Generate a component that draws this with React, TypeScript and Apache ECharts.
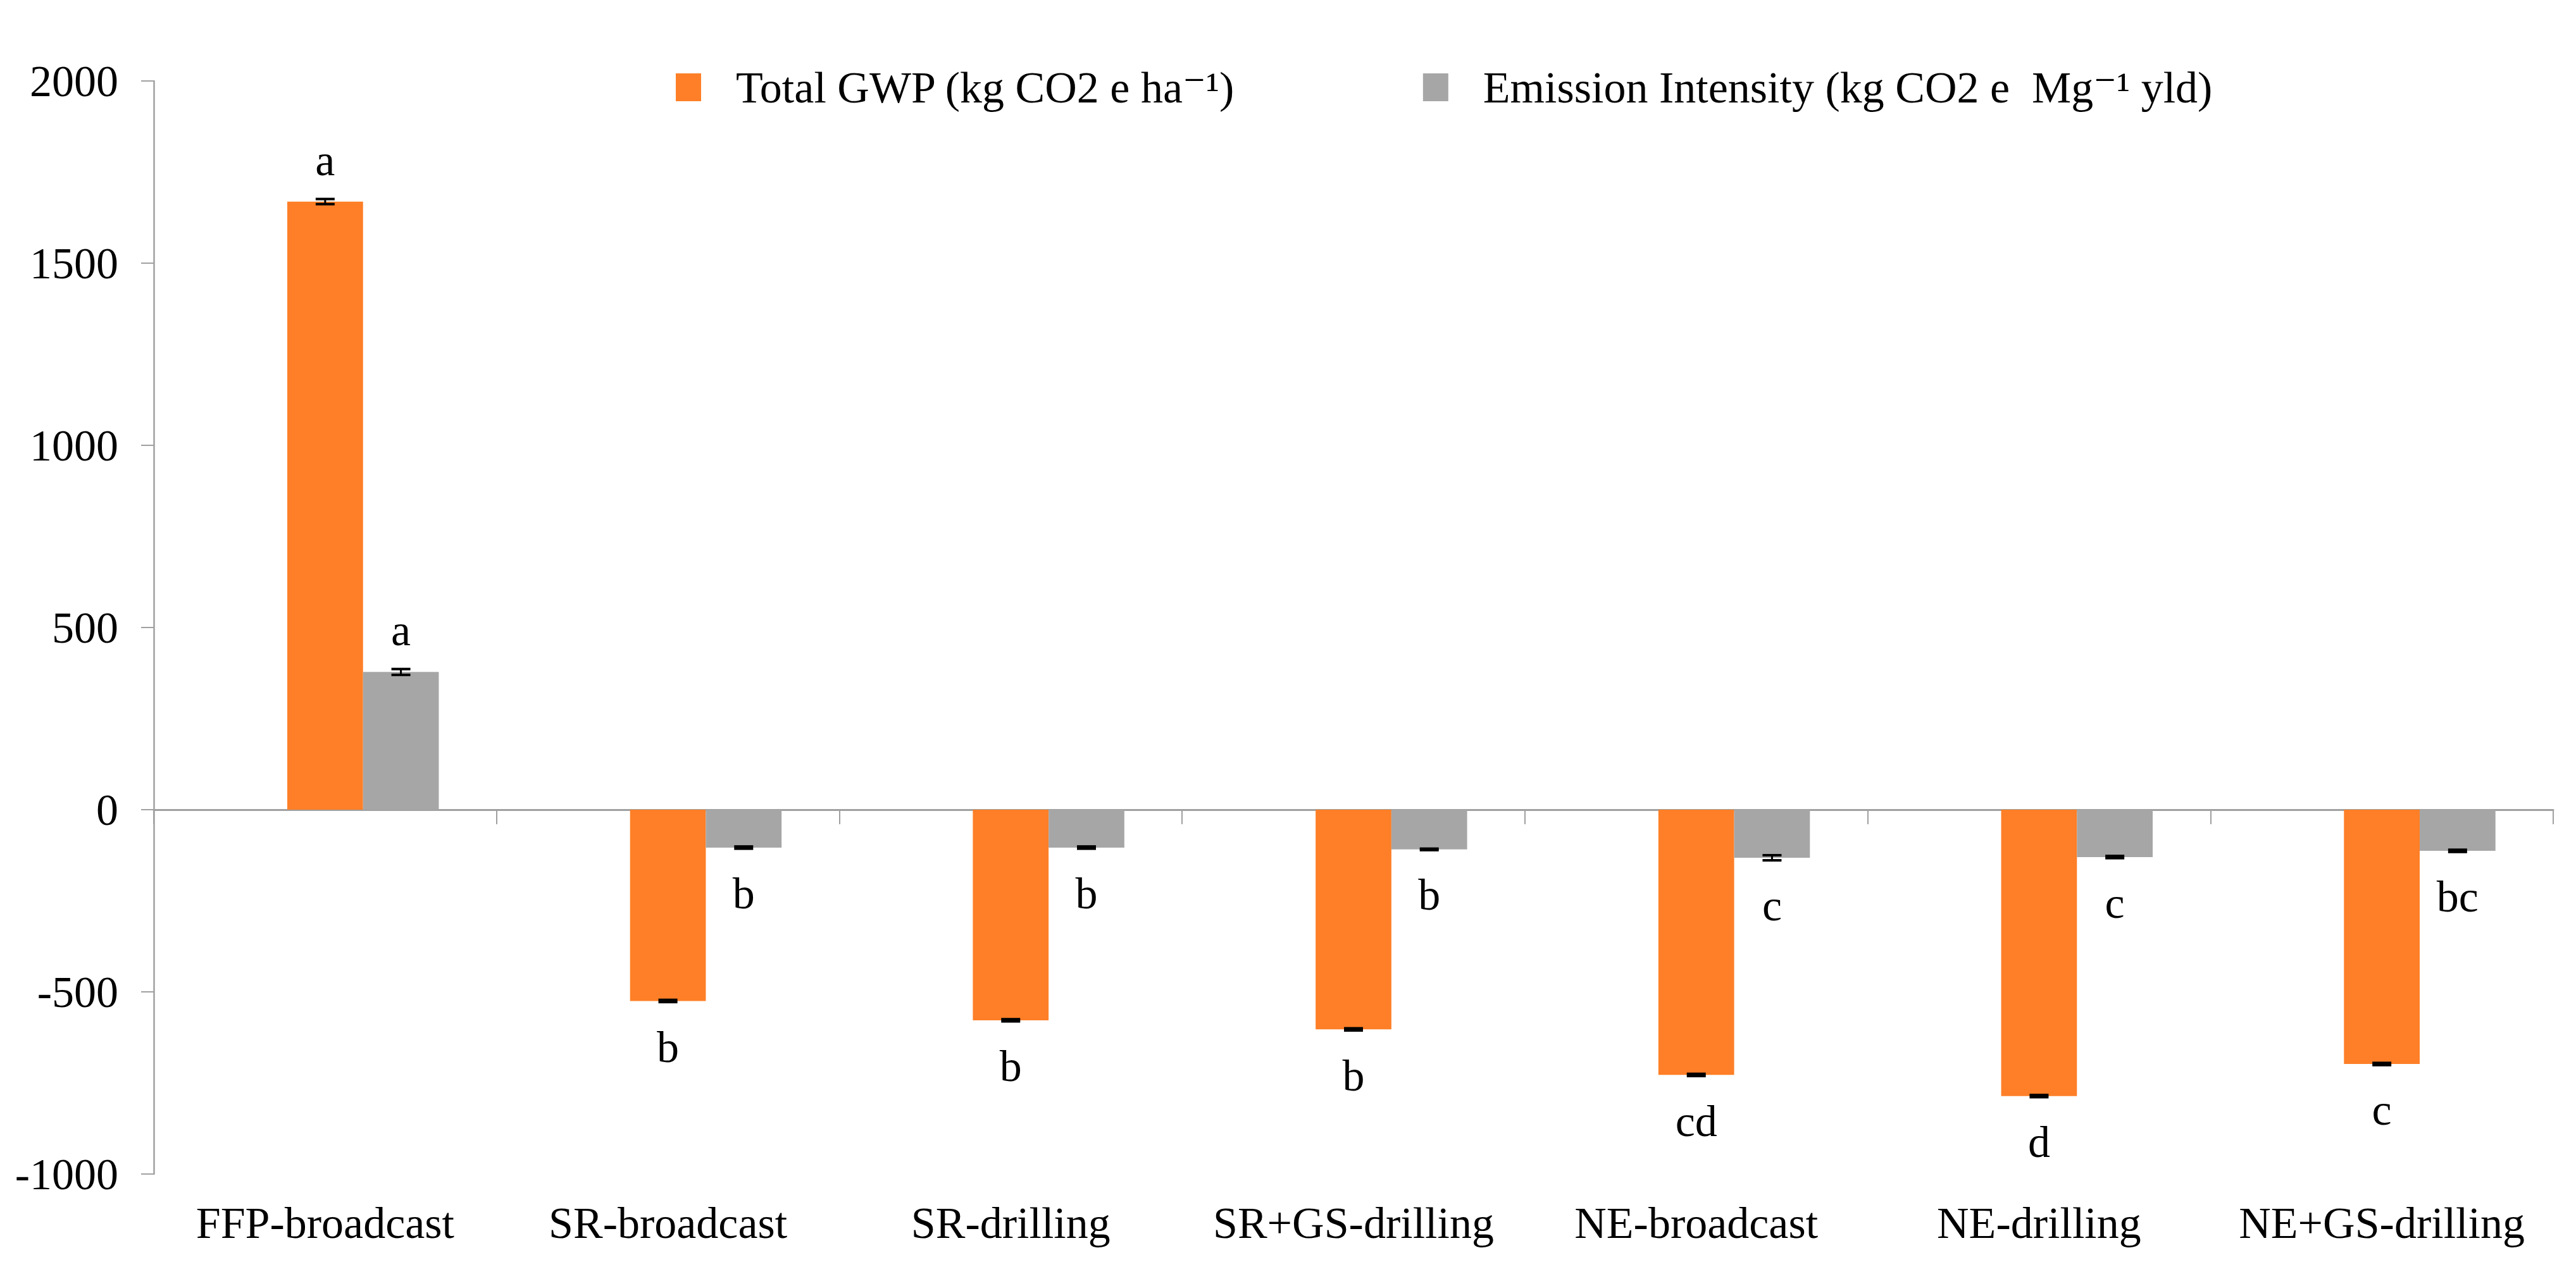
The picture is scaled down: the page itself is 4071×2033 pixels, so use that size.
import React, { useEffect, useRef } from 'react';
import * as echarts from 'echarts';

const categories = ['FFP-broadcast', 'SR-broadcast', 'SR-drilling', 'SR+GS-drilling', 'NE-broadcast', 'NE-drilling', 'NE+GS-drilling'];
const gwpName = 'Total GWP (kg CO2 e ha\u207B\u00B9)';
const gwpValues = [1669, -525, -578, -603, -728, -786, -698];
const gwpErrors = [7, 3, 3, 3, 3, 3, 3];
const gwpLetters = ['a', 'b', 'b', 'b', 'cd', 'd', 'c'];
const intensityName = 'Emission Intensity (kg CO2 e  Mg\u207B\u00B9 yld)';
const intensityValues = [378, -104, -104, -109, -132, -130, -113];
const intensityErrors = [8, 3, 3, 2, 7, 3, 3];
const intensityLetters = ['a', 'b', 'b', 'b', 'c', 'c', 'bc'];
const yMin = -1000;
const yMax = 2000;
const yInterval = 500;

const FONT = "'Times New Roman', 'Liberation Serif', 'DejaVu Serif', serif";
const ORANGE = '#FE7F27';
const GRAY = '#A6A6A6';
const AXIS = '#A0A0A0';
const BAR_FRAC = 0.221;

function errorSeries(values: number[], errors: number[], letters: string[], offsetIdx: number) {
  return {
    type: 'custom',
    xAxisIndex: 0,
    yAxisIndex: 0,
    z: 10,
    silent: true,
    clip: false,
    data: values.map((v, i) => [i, v, errors[i]]),
    encode: { x: 0, y: 1 },
    renderItem: (params: any, api: any) => {
      const i = api.value(0);
      const v = api.value(1);
      const e = api.value(2);
      const band = api.size([1, 0])[0];
      const bw = band * BAR_FRAC;
      const base = api.coord([i, v]);
      const cx = base[0] + offsetIdx * bw;
      const yHi = api.coord([i, v + e])[1];
      const yLo = api.coord([i, v - e])[1];
      const cap = 15;
      const letter = letters[params.dataIndex];
      const positive = v >= 0;
      return {
        type: 'group',
        children: [
          { type: 'line', shape: { x1: cx, y1: yHi, x2: cx, y2: yLo }, style: { stroke: '#000', lineWidth: 3 } },
          { type: 'line', shape: { x1: cx - cap, y1: yHi, x2: cx + cap, y2: yHi }, style: { stroke: '#000', lineWidth: 4 } },
          { type: 'line', shape: { x1: cx - cap, y1: yLo, x2: cx + cap, y2: yLo }, style: { stroke: '#000', lineWidth: 4 } },
          {
            type: 'text',
            x: cx,
            y: positive ? yHi - 26 : yLo + 36,
            style: {
              text: letter,
              fill: '#000',
              fontSize: 70,
              fontFamily: FONT,
              textAlign: 'center',
              align: 'center',
              textVerticalAlign: positive ? 'bottom' : 'top',
              verticalAlign: positive ? 'bottom' : 'top',
            },
          },
        ],
      };
    },
  };
}

export default function App() {
  const ref = useRef<HTMLDivElement>(null);
  useEffect(() => {
    if (!ref.current) return;
    const chart = echarts.init(ref.current, undefined, { renderer: 'svg' });
    chart.setOption({
      animation: false,
      backgroundColor: '#fff',
      grid: { left: 243, right: 36, top: 128, bottom: 177, containLabel: false },
      legend: {
        data: [gwpName, intensityName],
        left: 1063,
        top: 98,
        itemWidth: 40,
        itemHeight: 44,
        itemGap: 296,
        icon: 'rect',
        selectedMode: false,
        textStyle: { fontSize: 70, fontFamily: FONT, color: '#000', padding: [0, 0, 0, 50] },
      },
      xAxis: [
        {
          type: 'category',
          data: categories,
          position: 'bottom',
          axisLine: { show: false, onZero: false },
          axisTick: { show: false },
          axisLabel: { fontSize: 70, fontFamily: FONT, color: '#000', margin: 42, interval: 0 },
        },
        {
          type: 'category',
          data: categories,
          position: 'bottom',
          axisLine: { show: true, onZero: true, lineStyle: { color: AXIS, width: 3 } },
          axisTick: { show: true, length: 23, interval: 0, lineStyle: { color: AXIS, width: 2 } },
          axisLabel: { show: false },
        },
      ],
      yAxis: {
        type: 'value',
        min: yMin,
        max: yMax,
        interval: yInterval,
        axisLine: { show: true, lineStyle: { color: AXIS, width: 2.5 } },
        axisTick: { show: true, length: 20, lineStyle: { color: AXIS, width: 2 } },
        splitLine: { show: false },
        axisLabel: {
          fontSize: 70,
          fontFamily: FONT,
          color: '#000',
          margin: 56,
          formatter: (v: number) => String(v),
        },
      },
      series: [
        {
          type: 'bar',
          name: '_spacer',
          data: categories.map(() => null),
          barWidth: (BAR_FRAC * 100).toFixed(1) + '%',
          barGap: '0%',
        },
        {
          type: 'bar',
          name: gwpName,
          data: gwpValues,
          itemStyle: { color: ORANGE },
          barWidth: (BAR_FRAC * 100).toFixed(1) + '%',
          barGap: '0%',
        },
        {
          type: 'bar',
          name: intensityName,
          data: intensityValues,
          itemStyle: { color: GRAY },
          barWidth: (BAR_FRAC * 100).toFixed(1) + '%',
          barGap: '0%',
        },
        errorSeries(gwpValues, gwpErrors, gwpLetters, 0),
        errorSeries(intensityValues, intensityErrors, intensityLetters, 1),
      ],
    });
    return () => chart.dispose();
  }, []);
  return <div ref={ref} style={{ position: 'absolute', left: 0, top: 0, width: 4071, height: 2033 }} />;
}
